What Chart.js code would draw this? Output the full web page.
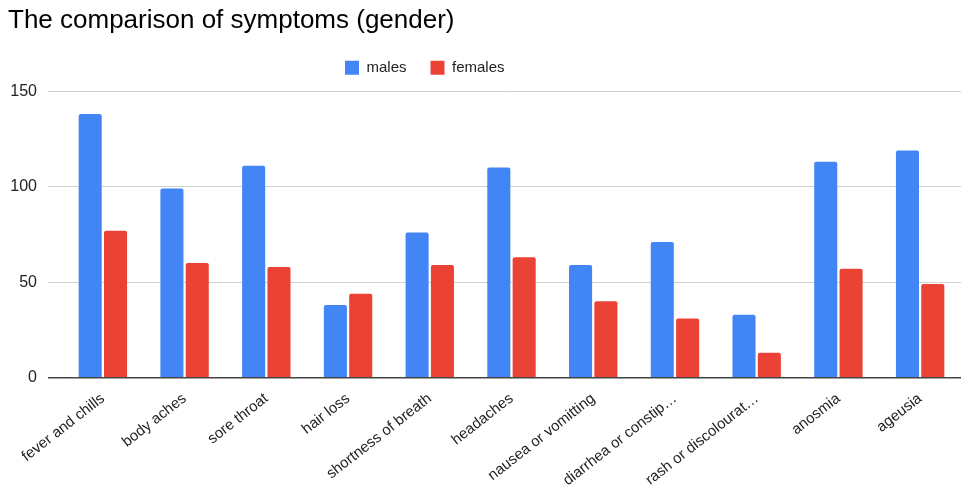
<!DOCTYPE html>
<html>
<head>
<meta charset="utf-8">
<script src="https://cdn.jsdelivr.net/npm/chart.js@4"></script>
<style>
  html, body { margin: 0; padding: 0; background: #fff; }
  #wrap { width: 963px; height: 486px; position: relative; }
</style>
</head>
<body>
<div id="wrap"><canvas id="c" width="963" height="486"></canvas></div>
<script>
const categories = [
  'fever and chills', 'body aches', 'sore throat', 'hair loss',
  'shortness of breath', 'headaches', 'nausea or vomitting',
  'diarrhea or constip\u2026', 'rash or discolourat\u2026', 'anosmia', 'ageusia'
];
const males   = [138, 99, 111, 38, 76, 110, 59, 71, 33, 113, 119];
const females = [77, 60, 58, 44, 59, 63, 40, 31, 13, 57, 49];
const yTicks  = [0, 50, 100, 150];

const FONT = '"Liberation Sans", Arial, sans-serif';

// Places the legend row at a fixed start, a little above its layout slot.
const legendShift = {
  id: 'legendShift',
  afterLayout(chart) {
    const lg = chart.legend;
    if (lg) {
      const w = lg.right - lg.left;
      lg.left = 321;
      lg.right = 321 + w;
      lg.top -= 6;
      lg.bottom -= 6;
    }
  }
};

new Chart(document.getElementById('c'), {
  type: 'bar',
  data: {
    labels: categories,
    datasets: [
      { label: 'males', data: males, backgroundColor: '#4285F4', borderRadius: 2, borderSkipped: 'bottom' },
      { label: 'females', data: females, backgroundColor: '#EA4335', borderRadius: 2, borderSkipped: 'bottom' }
    ]
  },
  options: {
    responsive: false,
    animation: false,
    layout: { padding: { left: 8, right: 2, top: 0, bottom: 0 } },
    datasets: { bar: { categoryPercentage: 0.62, barPercentage: 0.91 } },
    plugins: {
      title: {
        display: true,
        text: 'The comparison of symptoms (gender)',
        align: 'start',
        color: '#000',
        font: { family: FONT, size: 26, weight: 'normal' },
        padding: { top: 5, bottom: 6 }
      },
      legend: {
        position: 'top',
        align: 'start',
        labels: {
          color: '#222',
          font: { family: FONT, size: 15 },
          boxWidth: 14,
          boxHeight: 14,
          padding: 24
        }
      },
      tooltip: { enabled: false }
    },
    scales: {
      x: {
        grid: { display: false },
        border: { display: false },
        ticks: {
          color: '#222',
          font: { family: FONT, size: 15 },
          minRotation: 38,
          maxRotation: 38,
          autoSkip: false,
          padding: 4
        },
        afterFit(scale) { scale.height = 108.3; }
      },
      y: {
        min: 0,
        max: 150,
        afterBuildTicks(scale) { scale.ticks = yTicks.map(v => ({ value: v })); },
        grid: {
          color: ctx => (ctx.tick && ctx.tick.value === 0) ? '#444' : '#d0d0d0',
          lineWidth: ctx => (ctx.tick && ctx.tick.value === 0) ? 1.5 : 1,
          tickLength: 14,
          drawTicks: true
        },
        border: { display: false },
        ticks: {
          color: '#222',
          font: { family: FONT, size: 16 },
          padding: 11
        },
        afterFit(scale) { scale.width = 54; }
      }
    }
  },
  plugins: [legendShift]
});
</script>
</body>
</html>
